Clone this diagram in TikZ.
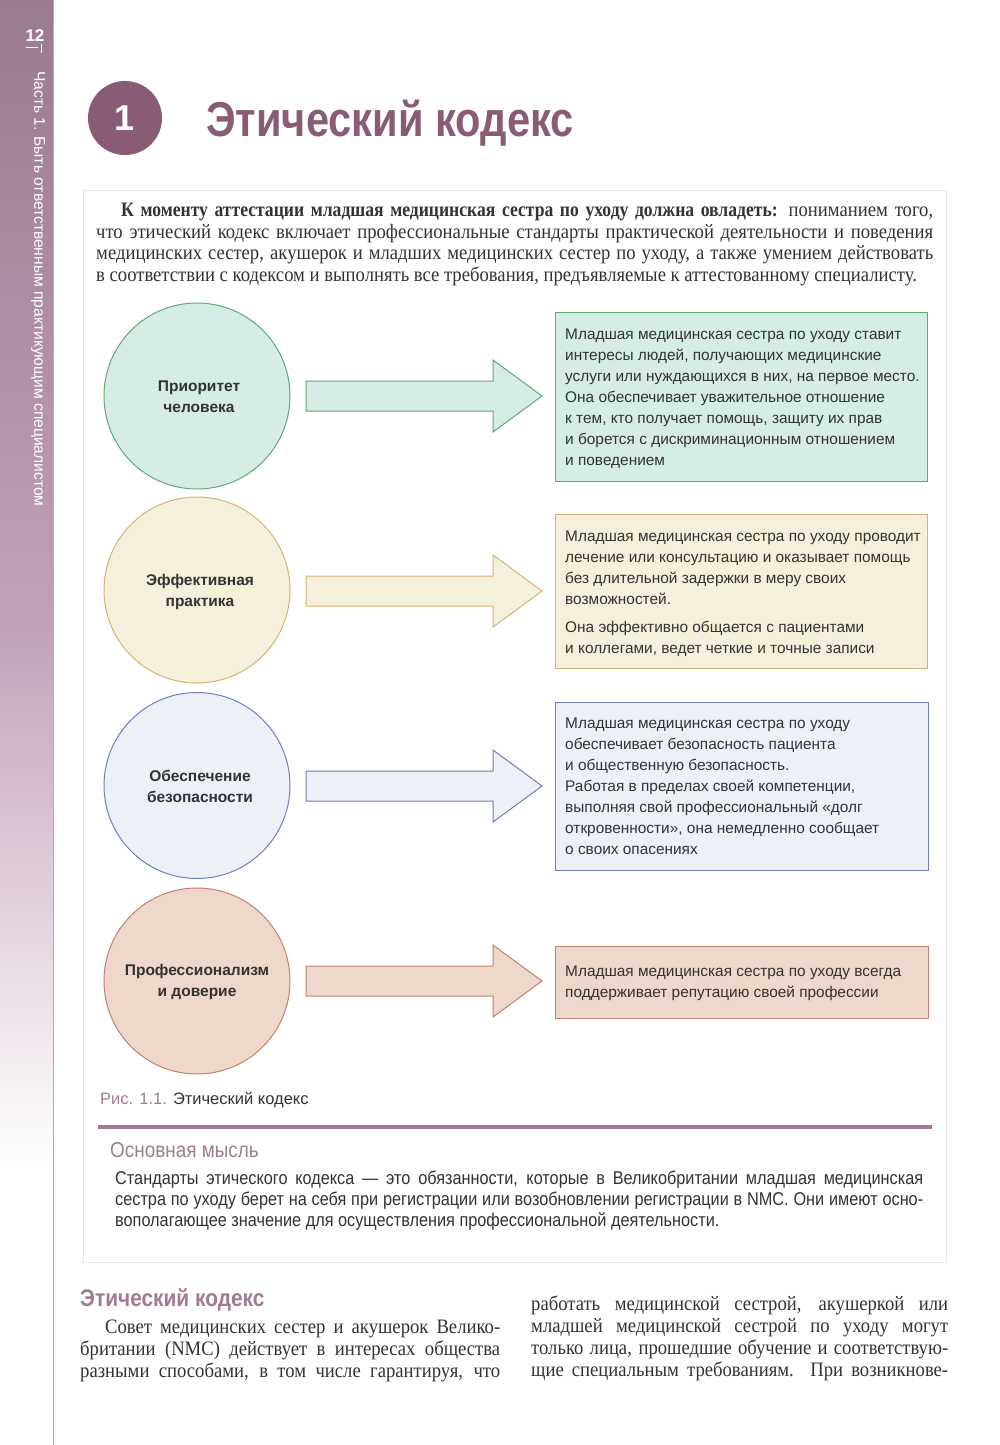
\documentclass[tikz,border=0pt]{standalone}
\usepackage{fontspec}
\setmainfont{Liberation Serif}
\setsansfont{Liberation Sans}
\newfontfamily\csans[FakeStretch=0.88]{Liberation Sans}
\newfontfamily\cserif[FakeStretch=0.91,BoldFeatures={FakeStretch=0.86}]{Liberation Serif}
\newfontfamily\tsans[FakeStretch=0.85]{Liberation Sans}
\newfontfamily\hsans[FakeStretch=0.87]{Liberation Sans}
\definecolor{plum}{HTML}{8A5B75}
\definecolor{plumlt}{HTML}{A27A92}
\definecolor{sidetop}{HTML}{9A7A8E}
\definecolor{sidemid}{HTML}{C1A1B8}
\definecolor{txt}{HTML}{333333}
\definecolor{gfill}{HTML}{D5EDE4}\definecolor{gline}{HTML}{62A878}
\definecolor{yfill}{HTML}{F4F0DC}\definecolor{yline}{HTML}{D6B574}
\definecolor{bfill}{HTML}{EEF0F8}\definecolor{bline}{HTML}{6F7EBC}
\definecolor{pfill}{HTML}{EDD8CB}\definecolor{pline}{HTML}{C68070}
\tikzset{
  circ/.style={circle, draw=#1, line width=1pt, minimum size=186pt, inner sep=0pt},
  circlab/.style={align=center, font=\sffamily\bfseries\fontsize{15.5}{21}\selectfont, text=txt, inner sep=0pt},
  infobox/.style={draw=#1, line width=1pt, anchor=north west, inner sep=0pt},
  boxtext/.style={anchor=north west, align=left, inner sep=0pt, text=txt, font=\sffamily\fontsize{15.4}{21}\selectfont},
  linetext/.style={anchor=base west, inner sep=0pt, text=txt},
  serifline/.style={linetext, font=\cserif\fontsize{20.5}{22}\selectfont},
  keyline/.style={linetext, font=\csans\fontsize{18.5}{21}\selectfont},
  blockarrow/.style={line width=1pt},
}
\newcommand{\blockarr}[4]{% name, y, fill, draw
  \coordinate (#1s) at (306,#2);
  \coordinate (#1t) at (542,#2);
  \draw[blockarrow, fill=#3, draw=#4] (#1s) ++(0,-15) -- ++(187,0) -- ++(0,-21) -- (#1t) -- ++(-49,36) -- ++(0,-21) -- ++(-187,0) -- cycle;
}
\begin{document}
\begin{tikzpicture}[x=1pt,y=-1pt]
\useasboundingbox (0,0) rectangle (1000,1445);
\fill[white] (0,0) rectangle (1000,1445);
% sidebar
\shade[top color=sidetop, bottom color=sidemid] (0,0) rectangle (53,620);
\shade[top color=sidemid, bottom color=white] (0,620) rectangle (53,1170);
\draw[color=sidemid, line width=1.5pt] (53.5,0) -- (53.5,1445);
\node[text=white, font=\sffamily\bfseries\fontsize{17}{17}\selectfont, inner sep=0pt] (pagenum) at (35,36) {12};
\draw[white, line width=1pt] (26,48) -- (38,48);
\draw[white, line width=1pt] (41,44) -- (41,53);
\node[rotate=-90, anchor=west, text=white, font=\sffamily\fontsize{15.6}{16}\selectfont, inner sep=0pt] (part) at (38,71) {Часть 1. Быть ответственным практикующим специалистом};
% header
\node[circle, fill=plum, minimum size=74pt, inner sep=0pt, text=white, font=\sffamily\bfseries\fontsize{36}{36}\selectfont] (chap) at (125,118) {1};
\node[anchor=base west, inner sep=0pt, text=plum, font=\tsans\bfseries\fontsize{49}{49}\selectfont] (title) at (206,136) {Этический кодекс};
% frame
\draw[color=black!9, line width=1pt] (83,190) rectangle (946,1262);
% intro
\node[serifline] (i1) at (121,216) {\makebox[812pt][s]{\textbf{К моменту аттестации младшая медицинская сестра по уходу должна овладеть:} пониманием того,}};
\node[serifline] (i2) at (96,238) {\makebox[837pt][s]{что этический кодекс включает профессиональные стандарты практической деятельности и поведения}};
\node[serifline] (i3) at (96,259.5) {\makebox[837pt][s]{медицинских сестер, акушерок и младших медицинских сестер по уходу, а также умением действовать}};
\node[serifline] (i4) at (96,281) {в соответствии с кодексом и выполнять все требования, предъявляемые к аттестованному специалисту.};
% row 1
\node[circ=gline, fill=gfill] (c1) at (197,396) {};
\node[circlab] (l1) at (199,396.5) {Приоритет\\человека};
\node[infobox=gline, fill=gfill, minimum width=372pt, minimum height=169pt] (b1) at (555,312) {};
\node[boxtext] (t1) at (565,328.5) {Младшая медицинская сестра по уходу ставит\\интересы людей, получающих медицинские\\услуги или нуждающихся в них, на первое место.\\Она обеспечивает уважительное отношение\\к тем, кто получает помощь, защиту их прав\\и борется с дискриминационным отношением\\и поведением};
\blockarr{a1}{396}{gfill}{gline}
% row 2
\node[circ=yline, fill=yfill] (c2) at (197,590) {};
\node[circlab] (l2) at (200,591.5) {Эффективная\\практика};
\node[infobox=yline, fill=yfill, minimum width=372pt, minimum height=154pt] (b2) at (555,514) {};
\node[boxtext] (t2) at (565,530.5) {Младшая медицинская сестра по уходу проводит\\лечение или консультацию и оказывает помощь\\без длительной задержки в меру своих\\возможностей.\\[7pt]Она эффективно общается с пациентами\\и коллегами, ведет четкие и точные записи};
\blockarr{a2}{591}{yfill}{yline}
% row 3
\node[circ=bline, fill=bfill] (c3) at (197,785.5) {};
\node[circlab] (l3) at (200,786.5) {Обеспечение\\безопасности};
\node[infobox=bline, fill=bfill, minimum width=373pt, minimum height=168pt] (b3) at (555,702) {};
\node[boxtext] (t3) at (565,717.5) {Младшая медицинская сестра по уходу\\обеспечивает безопасность пациента\\и общественную безопасность.\\Работая в пределах своей компетенции,\\выполняя свой профессиональный «долг\\откровенности», она немедленно сообщает\\о своих опасениях};
\blockarr{a3}{786}{bfill}{bline}
% row 4
\node[circ=pline, fill=pfill] (c4) at (197,981) {};
\node[circlab] (l4) at (197,981.5) {Профессионализм\\и доверие};
\node[infobox=pline, fill=pfill, minimum width=373pt, minimum height=72pt] (b4) at (555,946) {};
\node[boxtext] (t4) at (565,965.5) {Младшая медицинская сестра по уходу всегда\\поддерживает репутацию своей профессии};
\blockarr{a4}{981}{pfill}{pline}
% caption
\node[linetext, font=\sffamily\fontsize{16.5}{18}\selectfont] (cap) at (100,1104) {\textcolor{plumlt}{Рис. 1.1.} Этический кодекс};
% key message
\draw[color=plumlt, line width=4pt] (98,1127) -- (932,1127);
\node[anchor=base west, inner sep=0pt, text=plumlt, font=\csans\fontsize{21.5}{22}\selectfont] (kmh) at (110,1157) {Основная мысль};
\node[keyline] (k1) at (115,1184.5) {\makebox[808pt][s]{Стандарты этического кодекса — это обязанности, которые в Великобритании младшая медицинская}};
\node[keyline] (k2) at (115,1205.5) {\makebox[808pt][s]{сестра по уходу берет на себя при регистрации или возобновлении регистрации в NMC. Они имеют осно-}};
\node[keyline] (k3) at (115,1226.5) {вополагающее значение для осуществления профессиональной деятельности.};
% bottom section
\node[anchor=base west, inner sep=0pt, text=plumlt, font=\hsans\bfseries\fontsize{24}{24}\selectfont] (h2) at (80,1306) {Этический кодекс};
\node[serifline] (p1) at (105,1333) {\makebox[395pt][s]{Совет медицинских сестер и акушерок Велико-}};
\node[serifline] (p2) at (80,1355) {\makebox[420pt][s]{британии (NMC) действует в интересах общества}};
\node[serifline] (p3) at (80,1377) {\makebox[420pt][s]{разными способами, в том числе гарантируя, что}};
\node[serifline] (q1) at (531,1310) {\makebox[417pt][s]{работать медицинской сестрой, акушеркой или}};
\node[serifline] (q2) at (531,1332) {\makebox[417pt][s]{младшей медицинской сестрой по уходу могут}};
\node[serifline] (q3) at (531,1354) {\makebox[417pt][s]{только лица, прошедшие обучение и соответствую-}};
\node[serifline] (q4) at (531,1376) {\makebox[417pt][s]{щие специальным требованиям. При возникнове-}};
\end{tikzpicture}
\end{document}
